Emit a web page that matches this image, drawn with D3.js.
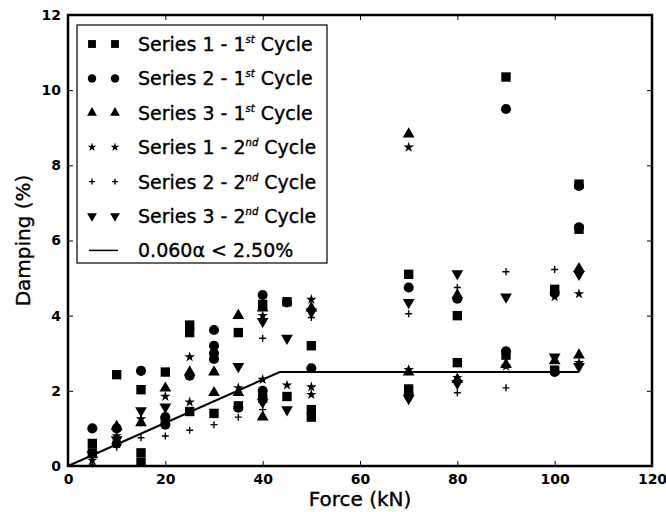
<!DOCTYPE html>
<html lang="en">
<head>
<meta charset="utf-8">
<script src="https://d3js.org/d3.v7.min.js"></script>
<style>
    body { margin: 0; background: #fff; }
    svg { display: block; }
    text { font-family: "DejaVu Sans", sans-serif; fill: #000; }
</style>
</head>
<body>
<div id="chart"></div>
<script>

    // [force kN, damping %] pairs
    const s1Cycle1 = [[5, 0.6], [5, 0.35], [10, 2.43], [15, 2.03], [15, 0.35], [15, 0.1], [20, 2.5], [20, 1.2],
        [25, 3.75], [25, 3.55], [25, 1.45], [30, 1.4], [35, 3.55], [35, 1.6], [40, 4.3], [40, 1.8], [45, 4.37],
        [45, 1.85], [50, 3.2], [50, 1.5], [50, 1.3], [70, 5.1], [70, 2.05], [80, 4.0], [80, 2.75], [90, 10.35],
        [90, 2.95], [100, 4.7], [100, 2.55], [105, 7.5], [105, 6.3]];
    const s2Cycle1 = [[5, 1.0], [10, 1.0], [10, 0.6], [15, 2.53], [20, 1.3], [20, 1.1], [25, 2.4], [30, 3.62],
        [30, 3.2], [30, 3.0], [30, 2.85], [35, 1.55], [40, 4.55], [40, 2.0], [45, 4.35], [50, 2.6], [70, 4.75],
        [70, 1.9], [80, 4.45], [90, 9.5], [90, 3.05], [100, 4.6], [100, 2.5], [105, 7.45], [105, 6.35]];
    const s3Cycle1 = [[5, 0.3], [10, 1.05], [15, 1.15], [20, 2.07], [25, 2.5], [30, 2.5], [30, 1.95], [35, 4.0],
        [35, 1.95], [40, 1.3], [40, 4.2], [50, 4.2], [70, 8.83], [70, 2.5], [80, 4.55], [80, 2.3], [90, 2.7],
        [100, 2.8], [105, 5.25], [105, 2.95]];
    const s1Cycle2 = [[5, 0.15], [10, 0.8], [15, 1.25], [20, 1.85], [25, 2.9], [25, 1.7], [35, 2.08], [40, 4.0],
        [40, 2.3], [45, 2.15], [50, 4.43], [50, 2.1], [50, 1.9], [70, 8.48], [70, 2.56], [80, 2.35], [90, 2.65],
        [100, 4.5], [105, 4.58], [105, 2.75]];
    const s2Cycle2 = [[5, 0.05], [10, 0.5], [15, 0.75], [15, 1.15], [20, 0.8], [25, 0.95], [30, 1.1], [35, 1.3],
        [40, 3.4], [40, 1.5], [50, 3.95], [70, 4.05], [80, 4.75], [80, 1.95], [90, 5.17], [90, 2.08], [100, 5.23]];
    const s3Cycle2 = [[5, 0.3], [10, 0.7], [15, 1.47], [20, 1.57], [35, 2.65], [40, 3.85], [40, 1.7], [45, 3.4],
        [45, 1.5], [50, 4.1], [70, 4.35], [70, 1.8], [80, 5.12], [80, 2.2], [90, 4.5], [100, 2.9], [105, 5.1],
        [105, 2.65]];

    // design limit line
    const limitLine = [[0, 0], [43.5, 2.5], [105, 2.5]];

    const xTicks = [0, 20, 40, 60, 80, 100, 120];
    const yTicks = [0, 2, 4, 6, 8, 10, 12];

    const series = [
        {name: "Series 1 - 1", sup: "st", data: s1Cycle1, shape: "square"},
        {name: "Series 2 - 1", sup: "st", data: s2Cycle1, shape: "circle"},
        {name: "Series 3 - 1", sup: "st", data: s3Cycle1, shape: "triangle"},
        {name: "Series 1 - 2", sup: "nd", data: s1Cycle2, shape: "star"},
        {name: "Series 2 - 2", sup: "nd", data: s2Cycle2, shape: "plus"},
        {name: "Series 3 - 2", sup: "nd", data: s3Cycle2, shape: "down"}
    ];

    const width = 666, height = 512;
    const margin = {top: 15, right: 14, bottom: 46, left: 68};
    const w = width - margin.left - margin.right;
    const h = height - margin.top - margin.bottom;

    const svg = d3.select("#chart").append("svg")
        .attr("width", width)
        .attr("height", height);

    const g = svg.append("g")
        .attr("transform", "translate(" + margin.left + "," + margin.top + ")");

    const x = d3.scaleLinear().domain([0, 120]).range([0, w]);
    const y = d3.scaleLinear().domain([0, 12]).range([h, 0]);

    // marker drawing, k scales the symbol area
    function marker(sel, shape, k) {
        if (shape === "plus") {
            const r = 3.5 * Math.sqrt(k);
            sel.append("path")
                .attr("d", "M" + (-r) + ",0H" + r + "M0," + (-r) + "V" + r)
                .attr("stroke", "#000")
                .attr("stroke-width", 1.4);
            return;
        }
        const types = {
            square: [d3.symbolSquare, 88],
            circle: [d3.symbolCircle, 80],
            triangle: [d3.symbolTriangle, 60],
            star: [d3.symbolStar, 34],
            down: [d3.symbolTriangle, 60]
        };
        const t = types[shape];
        sel.append("path")
            .attr("d", d3.symbol().type(t[0]).size(t[1] * k)())
            .attr("transform", shape === "down" ? "rotate(180)" : null)
            .attr("fill", "#000");
    }

    // axes with inward ticks
    const tickFmt = d3.format("d");
    const axB = g.append("g").attr("transform", "translate(0," + h + ")")
        .call(d3.axisBottom(x).tickValues(xTicks).tickSize(-5).tickPadding(8).tickFormat(tickFmt));
    const axL = g.append("g")
        .call(d3.axisLeft(y).tickValues(yTicks).tickSize(-5).tickPadding(7).tickFormat(tickFmt));
    const axT = g.append("g")
        .call(d3.axisTop(x).tickValues(xTicks).tickSize(-5).tickFormat(""));
    const axR = g.append("g").attr("transform", "translate(" + w + ",0)")
        .call(d3.axisRight(y).tickValues(yTicks).tickSize(-5).tickFormat(""));

    [axB, axL, axT, axR].forEach(function(a) {
        a.select(".domain").remove();
        a.selectAll("line").attr("stroke", "#000").attr("stroke-width", 1);
        a.selectAll("text").style("font-size", "14px").style("font-weight", "bold")
            .style("font-family", "DejaVu Sans, sans-serif");
    });

    // limit line
    g.append("path")
        .datum(limitLine)
        .attr("d", d3.line().x(function(d) { return x(d[0]); }).y(function(d) { return y(d[1]); }))
        .attr("fill", "none")
        .attr("stroke", "#000")
        .attr("stroke-width", 2);

    // points
    series.forEach(function(s) {
        g.append("g").selectAll("g")
            .data(s.data)
            .join("g")
            .attr("transform", function(d) { return "translate(" + x(d[0]) + "," + y(d[1]) + ")"; })
            .each(function() { marker(d3.select(this), s.shape, 1); });
    });

    // frame
    g.append("rect")
        .attr("width", w).attr("height", h)
        .attr("fill", "none")
        .attr("stroke", "#000")
        .attr("stroke-width", 2.5);

    // legend
    const lg = g.append("g").attr("transform", "translate(9,10)");
    lg.append("rect")
        .attr("width", 250).attr("height", 238)
        .attr("fill", "#fff")
        .attr("stroke", "#000")
        .attr("stroke-width", 1.2);

    const rowY = function(i) { return 19 + i * 34.4; };
    series.forEach(function(s, i) {
        const row = lg.append("g").attr("transform", "translate(0," + rowY(i) + ")");
        [15, 38].forEach(function(mx) {
            marker(row.append("g").attr("transform", "translate(" + mx + ",0)"), s.shape, 0.7);
        });
        const t = row.append("text")
            .attr("x", 61).attr("y", 7)
            .style("font-size", "19px")
            .attr("stroke", "#000").attr("stroke-width", 0.35);
        t.append("tspan").text(s.name);
        t.append("tspan").text(s.sup)
            .attr("dy", -8).style("font-size", "10px").style("font-style", "italic");
        t.append("tspan").text(" Cycle").attr("dy", 8);
    });
    const lastRow = lg.append("g").attr("transform", "translate(0," + rowY(6) + ")");
    lastRow.append("line")
        .attr("x1", 12).attr("x2", 41)
        .attr("stroke", "#000").attr("stroke-width", 1.5);
    lastRow.append("text")
        .attr("x", 61).attr("y", 7)
        .style("font-size", "19px")
        .attr("stroke", "#000").attr("stroke-width", 0.35)
        .text("0.060\u03B1 < 2.50%");

    // axis titles
    svg.append("text")
        .attr("x", margin.left + w / 2)
        .attr("y", 506)
        .attr("text-anchor", "middle")
        .style("font-size", "20px")
        .attr("stroke", "#000").attr("stroke-width", 0.35)
        .text("Force (kN)");
    svg.append("text")
        .attr("transform", "translate(30," + (margin.top + h / 2) + ") rotate(-90)")
        .attr("text-anchor", "middle")
        .style("font-size", "20px")
        .attr("stroke", "#000").attr("stroke-width", 0.35)
        .text("Damping (%)");

</script>
